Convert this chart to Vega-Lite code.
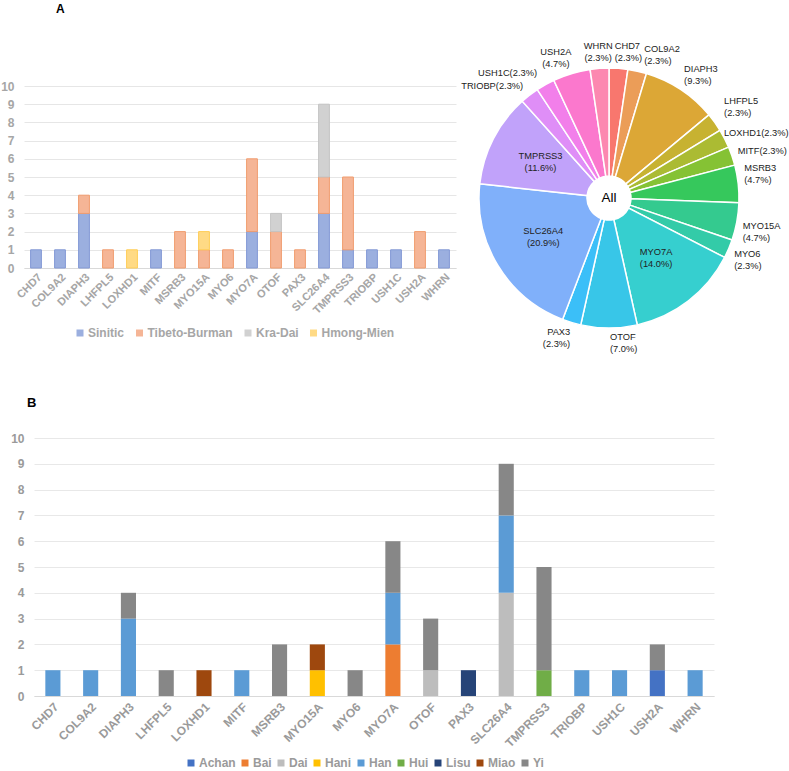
{
  "$schema": "https://vega.github.io/schema/vega-lite/v6.json",
  "background": "white",
  "padding": {"left": 0, "top": 3, "right": 0, "bottom": 0},
  "autosize": {"type": "pad"},
  "config": {
    "view": {"stroke": null},
    "font": "Liberation Sans",
    "title": {"font": "Liberation Sans"},
    "text": {"fontSize": 9.3, "lineHeight": 12, "fill": "#222222", "baseline": "middle", "lineBreak": "\n"}
  },
  "datasets": {
    "A": [
      {"gene": "CHD7", "family": "Sinitic", "n": 1},
      {"gene": "COL9A2", "family": "Sinitic", "n": 1},
      {"gene": "DIAPH3", "family": "Sinitic", "n": 3},
      {"gene": "DIAPH3", "family": "Tibeto-Burman", "n": 1},
      {"gene": "LHFPL5", "family": "Tibeto-Burman", "n": 1},
      {"gene": "LOXHD1", "family": "Hmong-Mien", "n": 1},
      {"gene": "MITF", "family": "Sinitic", "n": 1},
      {"gene": "MSRB3", "family": "Tibeto-Burman", "n": 2},
      {"gene": "MYO15A", "family": "Tibeto-Burman", "n": 1},
      {"gene": "MYO15A", "family": "Hmong-Mien", "n": 1},
      {"gene": "MYO6", "family": "Tibeto-Burman", "n": 1},
      {"gene": "MYO7A", "family": "Sinitic", "n": 2},
      {"gene": "MYO7A", "family": "Tibeto-Burman", "n": 4},
      {"gene": "OTOF", "family": "Tibeto-Burman", "n": 2},
      {"gene": "OTOF", "family": "Kra-Dai", "n": 1},
      {"gene": "PAX3", "family": "Tibeto-Burman", "n": 1},
      {"gene": "SLC26A4", "family": "Sinitic", "n": 3},
      {"gene": "SLC26A4", "family": "Tibeto-Burman", "n": 2},
      {"gene": "SLC26A4", "family": "Kra-Dai", "n": 4},
      {"gene": "TMPRSS3", "family": "Sinitic", "n": 1},
      {"gene": "TMPRSS3", "family": "Tibeto-Burman", "n": 4},
      {"gene": "TRIOBP", "family": "Sinitic", "n": 1},
      {"gene": "USH1C", "family": "Sinitic", "n": 1},
      {"gene": "USH2A", "family": "Tibeto-Burman", "n": 2},
      {"gene": "WHRN", "family": "Sinitic", "n": 1}
    ],
    "B": [
      {"gene": "CHD7", "ethnicity": "Han", "n": 1},
      {"gene": "COL9A2", "ethnicity": "Han", "n": 1},
      {"gene": "DIAPH3", "ethnicity": "Han", "n": 3},
      {"gene": "DIAPH3", "ethnicity": "Yi", "n": 1},
      {"gene": "LHFPL5", "ethnicity": "Yi", "n": 1},
      {"gene": "LOXHD1", "ethnicity": "Miao", "n": 1},
      {"gene": "MITF", "ethnicity": "Han", "n": 1},
      {"gene": "MSRB3", "ethnicity": "Yi", "n": 2},
      {"gene": "MYO15A", "ethnicity": "Hani", "n": 1},
      {"gene": "MYO15A", "ethnicity": "Miao", "n": 1},
      {"gene": "MYO6", "ethnicity": "Yi", "n": 1},
      {"gene": "MYO7A", "ethnicity": "Bai", "n": 2},
      {"gene": "MYO7A", "ethnicity": "Han", "n": 2},
      {"gene": "MYO7A", "ethnicity": "Yi", "n": 2},
      {"gene": "OTOF", "ethnicity": "Dai", "n": 1},
      {"gene": "OTOF", "ethnicity": "Yi", "n": 2},
      {"gene": "PAX3", "ethnicity": "Lisu", "n": 1},
      {"gene": "SLC26A4", "ethnicity": "Dai", "n": 4},
      {"gene": "SLC26A4", "ethnicity": "Han", "n": 3},
      {"gene": "SLC26A4", "ethnicity": "Yi", "n": 2},
      {"gene": "TMPRSS3", "ethnicity": "Hui", "n": 1},
      {"gene": "TMPRSS3", "ethnicity": "Yi", "n": 4},
      {"gene": "TRIOBP", "ethnicity": "Han", "n": 1},
      {"gene": "USH1C", "ethnicity": "Han", "n": 1},
      {"gene": "USH2A", "ethnicity": "Achan", "n": 1},
      {"gene": "USH2A", "ethnicity": "Yi", "n": 1},
      {"gene": "WHRN", "ethnicity": "Han", "n": 1}
    ],
    "pie": [
      {"gene": "CHD7", "n": 1, "label": "CHD7\n(2.3%)"},
      {"gene": "COL9A2", "n": 1, "label": "COL9A2\n(2.3%)"},
      {"gene": "DIAPH3", "n": 4, "label": "DIAPH3\n(9.3%)"},
      {"gene": "LHFPL5", "n": 1, "label": "LHFPL5\n(2.3%)"},
      {"gene": "LOXHD1", "n": 1, "label": "LOXHD1(2.3%)"},
      {"gene": "MITF", "n": 1, "label": "MITF(2.3%)"},
      {"gene": "MSRB3", "n": 2, "label": "MSRB3\n(4.7%)"},
      {"gene": "MYO15A", "n": 2, "label": "MYO15A\n(4.7%)"},
      {"gene": "MYO6", "n": 1, "label": "MYO6\n(2.3%)"},
      {"gene": "MYO7A", "n": 6, "label": "MYO7A\n(14.0%)"},
      {"gene": "OTOF", "n": 3, "label": "OTOF\n(7.0%)"},
      {"gene": "PAX3", "n": 1, "label": "PAX3\n(2.3%)"},
      {"gene": "SLC26A4", "n": 9, "label": "SLC26A4\n(20.9%)"},
      {"gene": "TMPRSS3", "n": 5, "label": "TMPRSS3\n(11.6%)"},
      {"gene": "TRIOBP", "n": 1, "label": "TRIOBP(2.3%)"},
      {"gene": "USH1C", "n": 1, "label": "USH1C(2.3%)"},
      {"gene": "USH2A", "n": 2, "label": "USH2A\n(4.7%)"},
      {"gene": "WHRN", "n": 1, "label": "WHRN\n(2.3%)"}
    ]
  },
  "resolve": {"scale": {"color": "independent", "fill": "independent", "stroke": "independent", "x": "independent", "y": "independent", "theta": "independent"}},
  "spacing": 42,
  "vconcat": [
    {
      "bounds": "flush",
      "spacing": 23,
      "resolve": {"scale": {"color": "independent", "fill": "independent", "stroke": "independent", "x": "independent", "y": "independent"}},
      "hconcat": [
        {
          "width": 432,
          "height": 182,
          "title": {"text": "A", "anchor": "start", "frame": "group", "fontSize": 12, "fontWeight": "bold", "color": "#000000", "dx": 32, "offset": 64},
          "data": {"name": "A"},
          "mark": {"type": "bar", "strokeWidth": 1},
          "encoding": {
            "x": {
              "field": "gene", "type": "nominal",
              "scale": {"paddingInner": 0.55, "paddingOuter": 0.275},
              "axis": {"title": null, "labelAngle": -45, "labelFontSize": 11, "labelFontWeight": "bold", "labelColor": "#a6a6a6", "ticks": false, "domainColor": "#d9d9d9", "labelPadding": 3}
            },
            "y": {
              "field": "n", "type": "quantitative", "stack": "zero",
              "scale": {"domain": [0, 10]},
              "axis": {"title": null, "values": [0, 1, 2, 3, 4, 5, 6, 7, 8, 9, 10], "gridColor": "#e6e6e6", "domain": false, "ticks": false, "labelPadding": 10, "labelFontSize": 12, "labelFontWeight": "bold", "labelColor": "#a6a6a6"}
            },
            "fill": {
              "field": "family", "type": "nominal",
              "scale": {"domain": ["Sinitic", "Tibeto-Burman", "Kra-Dai", "Hmong-Mien"], "range": ["#9bafdf", "#f5b596", "#d1d1d1", "#ffda85"]},
              "legend": {"orient": "none", "legendX": 50, "legendY": 241, "direction": "horizontal", "title": null, "symbolType": "square", "symbolSize": 49, "symbolStrokeWidth": 0, "labelFontSize": 12, "labelFontWeight": "bold", "labelColor": "#a6a6a6", "columnPadding": 8.5, "labelOffset": 2, "padding": 0}
            },
            "stroke": {
              "field": "family", "type": "nominal",
              "scale": {"domain": ["Sinitic", "Tibeto-Burman", "Kra-Dai", "Hmong-Mien"], "range": ["#8399d5", "#f09c6e", "#c4c4c4", "#ffcd55"]},
              "legend": null
            },
            "order": {"field": "gene"}
          }
        },
        {
          "width": 260,
          "height": 224,
          "data": {"name": "pie"},
          "encoding": {
            "theta": {"field": "n", "type": "quantitative", "stack": true},
            "order": {"field": "gene"}
          },
          "layer": [
            {
              "mark": {"type": "arc", "radius": 130, "innerRadius": 22, "stroke": "white", "strokeWidth": 1.5},
              "encoding": {
                "color": {
                  "field": "gene", "type": "nominal", "legend": null,
                  "scale": {"domain": ["CHD7", "COL9A2", "DIAPH3", "LHFPL5", "LOXHD1", "MITF", "MSRB3", "MYO15A", "MYO6", "MYO7A", "OTOF", "PAX3", "SLC26A4", "TMPRSS3", "TRIOBP", "USH1C", "USH2A", "WHRN"],
                    "range": ["#f8776e", "#eb9d58", "#dca736", "#c7b231", "#abbb33", "#85c234", "#36c85c", "#34ca8f", "#33cba8", "#36cfcf", "#38c6e8", "#3bbff8", "#80b0fa", "#c1a2fa", "#df8ef7", "#f27fea", "#fb78cd", "#fc88b0"]}
                }
              }
            },
            {
              "mark": {"type": "text", "radius": 77, "dy": -7, "align": "center"},
              "encoding": {"text": {"condition": {"test": "indexof(['MYO7A','SLC26A4','TMPRSS3'], datum.gene) >= 0", "field": "label"}, "value": ""}}
            },
            {
              "mark": {"type": "text", "radius": 148, "dx": 0, "dy": -4, "align": "center"},
              "encoding": {"text": {"condition": {"test": "datum.gene === 'WHRN'", "field": "label"}, "value": ""}}
            },
            {
              "mark": {"type": "text", "radius": 147, "dx": -5, "dy": -5, "align": "left"},
              "encoding": {"text": {"condition": {"test": "datum.gene === 'CHD7'", "field": "label"}, "value": ""}}
            },
            {
              "mark": {"type": "text", "radius": 148, "dx": 3, "dy": -4.5, "align": "left"},
              "encoding": {"text": {"condition": {"test": "datum.gene === 'COL9A2'", "field": "label"}, "value": ""}}
            },
            {
              "mark": {"type": "text", "radius": 148, "dx": -10.5, "dy": -4, "align": "center"},
              "encoding": {"text": {"condition": {"test": "datum.gene === 'USH2A'", "field": "label"}, "value": ""}}
            },
            {
              "mark": {"type": "text", "radius": 147, "dx": -6, "dy": -6, "align": "left"},
              "encoding": {"text": {"condition": {"test": "datum.gene === 'DIAPH3'", "field": "label"}, "value": ""}}
            },
            {
              "mark": {"type": "text", "radius": 147, "dx": -4.5, "dy": -11, "align": "left"},
              "encoding": {"text": {"condition": {"test": "datum.gene === 'LHFPL5'", "field": "label"}, "value": ""}}
            },
            {
              "mark": {"type": "text", "radius": 136, "dx": -6, "dy": -3, "align": "left"},
              "encoding": {"text": {"condition": {"test": "datum.gene === 'LOXHD1'", "field": "label"}, "value": ""}}
            },
            {
              "mark": {"type": "text", "radius": 136, "dx": 0, "dy": -3, "align": "left"},
              "encoding": {"text": {"condition": {"test": "datum.gene === 'MITF'", "field": "label"}, "value": ""}}
            },
            {
              "mark": {"type": "text", "radius": 136, "dx": 0, "dy": -15, "align": "left"},
              "encoding": {"text": {"condition": {"test": "datum.gene === 'MSRB3'", "field": "label"}, "value": ""}}
            },
            {
              "mark": {"type": "text", "radius": 136, "dx": 0, "dy": 3, "align": "left"},
              "encoding": {"text": {"condition": {"test": "indexof(['MYO15A','MYO6'], datum.gene) >= 0", "field": "label"}, "value": ""}}
            },
            {
              "mark": {"type": "text", "radius": 147, "dx": 1, "dy": -8, "align": "left"},
              "encoding": {"text": {"condition": {"test": "datum.gene === 'OTOF'", "field": "label"}, "value": ""}}
            },
            {
              "mark": {"type": "text", "radius": 145, "dx": 3, "dy": -5, "align": "right"},
              "encoding": {"text": {"condition": {"test": "datum.gene === 'PAX3'", "field": "label"}, "value": ""}}
            },
            {
              "mark": {"type": "text", "radius": 142, "dx": 1, "dy": 0, "align": "right"},
              "encoding": {"text": {"condition": {"test": "datum.gene === 'TRIOBP'", "field": "label"}, "value": ""}}
            },
            {
              "mark": {"type": "text", "radius": 142, "dx": -2.5, "dy": -1, "align": "right"},
              "encoding": {"text": {"condition": {"test": "datum.gene === 'USH1C'", "field": "label"}, "value": ""}}
            },
            {
              "data": {"values": [{"t": "All"}]},
              "mark": {"type": "text", "align": "center", "baseline": "middle", "fontSize": 13.5, "fill": "#000000"},
              "encoding": {"text": {"field": "t", "type": "nominal"}, "theta": null, "order": null}
            }
          ]
        }
      ]
    },
    {
      "bounds": "flush",
      "spacing": 9,
      "hconcat": [
        {
          "width": 1,
          "height": 1,
          "data": {"values": [{"a": 1}]},
          "mark": {"type": "point", "opacity": 0}
        },
        {
          "width": 680,
          "height": 258,
          "title": {"text": "B", "anchor": "start", "frame": "group", "fontSize": 13, "fontWeight": "bold", "color": "#000000", "dx": -7, "offset": 22},
          "data": {"name": "B"},
          "mark": {"type": "bar"},
          "encoding": {
            "x": {
              "field": "gene", "type": "nominal",
              "scale": {"paddingInner": 0.6, "paddingOuter": 0.3},
              "axis": {"title": null, "labelAngle": -45, "labelFontSize": 12, "labelFontWeight": "bold", "labelColor": "#9a9a9a", "ticks": false, "domainColor": "#d9d9d9", "labelPadding": 5}
            },
            "y": {
              "field": "n", "type": "quantitative", "stack": "zero",
              "scale": {"domain": [0, 10]},
              "axis": {"title": null, "values": [0, 1, 2, 3, 4, 5, 6, 7, 8, 9, 10], "gridColor": "#e8e8e8", "domain": false, "ticks": false, "labelPadding": 10, "labelFontSize": 12, "labelFontWeight": "bold", "labelColor": "#9a9a9a"}
            },
            "color": {
              "field": "ethnicity", "type": "nominal",
              "scale": {"domain": ["Achan", "Bai", "Dai", "Hani", "Han", "Hui", "Lisu", "Miao", "Yi"], "range": ["#4472c4", "#ed7d31", "#bdbdbd", "#ffc000", "#5b9bd5", "#70ad47", "#264478", "#9e480e", "#878787"]},
              "legend": {"orient": "none", "legendX": 161, "legendY": 319, "direction": "horizontal", "title": null, "symbolType": "square", "symbolSize": 49, "symbolStrokeWidth": 0, "labelFontSize": 12, "labelFontWeight": "bold", "labelColor": "#9a9a9a", "columnPadding": 3, "labelOffset": 2, "padding": 0}
            },
            "order": {"field": "ethnicity"}
          }
        }
      ]
    }
  ]
}
